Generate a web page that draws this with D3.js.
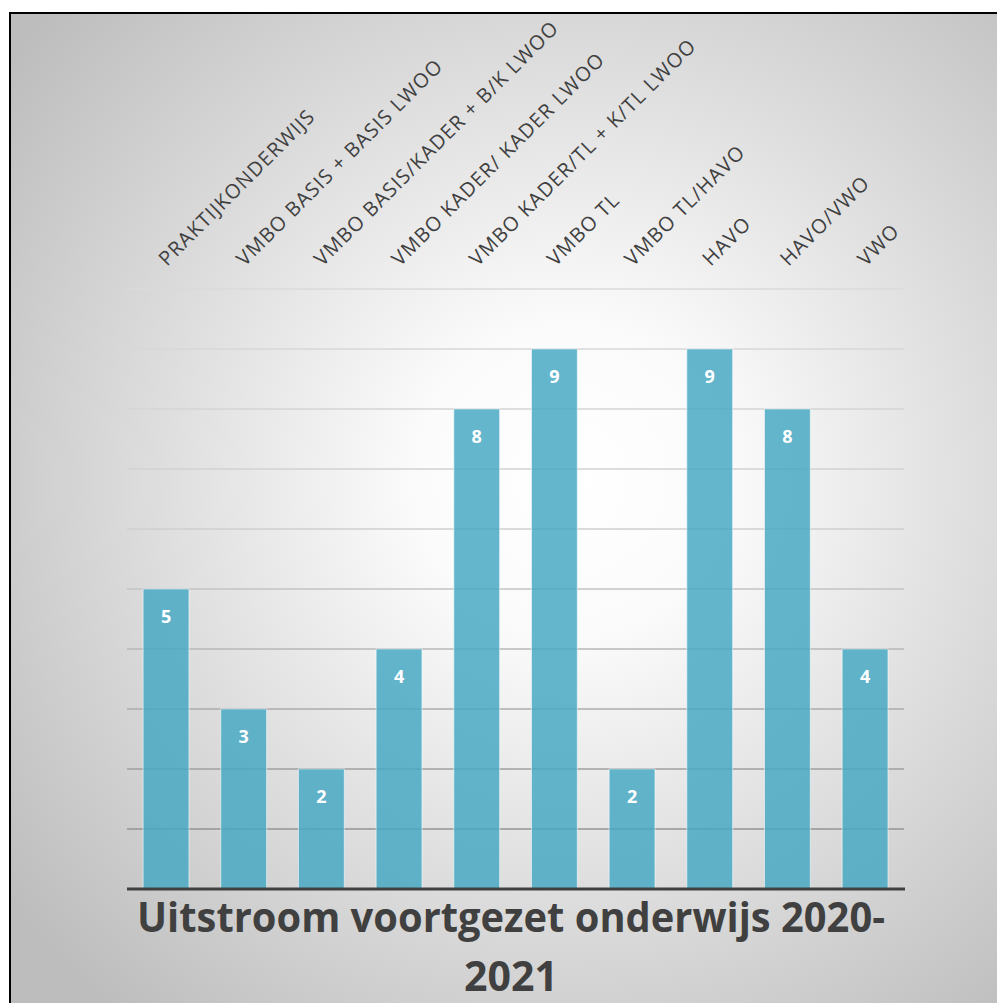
<!DOCTYPE html>
<html>
<head>
<meta charset="utf-8">
<script src="https://cdn.jsdelivr.net/npm/d3@7"></script>
<style>
html,body{margin:0;padding:0;background:#fff;}
svg{display:block;}
</style>
</head>
<body>
<script>
const categories = ["PRAKTIJKONDERWIJS","VMBO BASIS + BASIS LWOO","VMBO BASIS/KADER + B/K LWOO","VMBO KADER/ KADER LWOO","VMBO KADER/TL + K/TL LWOO","VMBO TL","VMBO TL/HAVO","HAVO","HAVO/VWO","VWO"];
const values = [5,3,2,4,8,9,2,9,8,4];
const gridTicks = [0,1,2,3,4,5,6,7,8,9,10];
const titleLines = ["Uitstroom voortgezet onderwijs 2020-","2021"];

const W = 997, H = 1003;
const svg = d3.select("body").append("svg").attr("width", W).attr("height", H);
const defs = svg.append("defs");

const bg = defs.append("radialGradient").attr("id","bg")
  .attr("gradientUnits","userSpaceOnUse")
  .attr("cx",570).attr("cy",480).attr("r",700);
bg.append("stop").attr("offset","0").attr("stop-color","#ffffff");
bg.append("stop").attr("offset","0.22").attr("stop-color","#fbfbfb");
bg.append("stop").attr("offset","1").attr("stop-color","#bdbdbd");

const gg = defs.append("linearGradient").attr("id","grid")
  .attr("gradientUnits","userSpaceOnUse")
  .attr("x1",0).attr("x2",0).attr("y1",289).attr("y2",889);
gg.append("stop").attr("offset","0").attr("stop-color","#dadada");
gg.append("stop").attr("offset","0.4").attr("stop-color","#cfcfcf");
gg.append("stop").attr("offset","1").attr("stop-color","#888888");

// chart area
svg.append("rect").attr("x",10).attr("y",13).attr("width",1000).attr("height",1000)
  .attr("fill","url(#bg)").attr("stroke","#000").attr("stroke-width",2);

const x = d3.scaleBand().domain(categories).range([127.2, 903.9])
  .paddingInner(0.41).paddingOuter(0.205);
const y = d3.scaleLinear().domain([0,10]).range([889, 289]);

// gridlines
svg.append("g").selectAll("line").data(gridTicks.filter(d => d > 0)).join("line")
  .attr("x1", 127).attr("x2", 904)
  .attr("y1", d => y(d)).attr("y2", d => y(d))
  .attr("stroke","url(#grid)").attr("stroke-width",1.6);

// bars
svg.append("g").selectAll("rect").data(values).join("rect")
  .attr("x", (d,i) => x(categories[i]))
  .attr("width", x.bandwidth())
  .attr("y", d => y(d))
  .attr("height", d => y(0) - y(d))
  .attr("fill","rgba(70,168,196,0.84)")
  .attr("stroke","rgba(255,255,255,0.55)").attr("stroke-width",1);

// data labels
svg.append("g").selectAll("text").data(values).join("text")
  .attr("x", (d,i) => x(categories[i]) + x.bandwidth()/2)
  .attr("y", d => y(d) + 34)
  .attr("text-anchor","middle")
  .attr("font-family","'Open Sans', sans-serif").attr("font-weight","bold")
  .attr("font-size",18).attr("fill","#ffffff")
  .text(d => d);

// baseline axis
const axis = svg.append("g").attr("transform",`translate(0,${y(0)})`)
  .call(d3.axisBottom(x).tickSize(0).tickFormat(""));
axis.select(".domain").attr("stroke","#404040").attr("stroke-width",3.2)
  .attr("d","M127,0H905");

// category labels
svg.append("g").selectAll("text").data(categories).join("text")
  .attr("transform", d => `translate(${x(d) + x.bandwidth()/2 + 1},${267}) rotate(-45)`)
  .attr("font-family","'Open Sans', sans-serif")
  .attr("font-size",20).attr("letter-spacing",1.1).attr("fill","#404040")
  .text(d => d);

// title
svg.append("g").selectAll("text").data(titleLines).join("text")
  .attr("x", 511)
  .attr("y", (d,i) => 932 + i*59)
  .attr("text-anchor","middle")
  .attr("font-family","'Open Sans', sans-serif")
  .attr("font-weight","bold").attr("font-size",41).attr("fill","#404040")
  .attr("textLength", (d,i) => i === 0 ? 748 : 94)
  .attr("lengthAdjust","spacingAndGlyphs")
  .text(d => d);
</script>
</body>
</html>
